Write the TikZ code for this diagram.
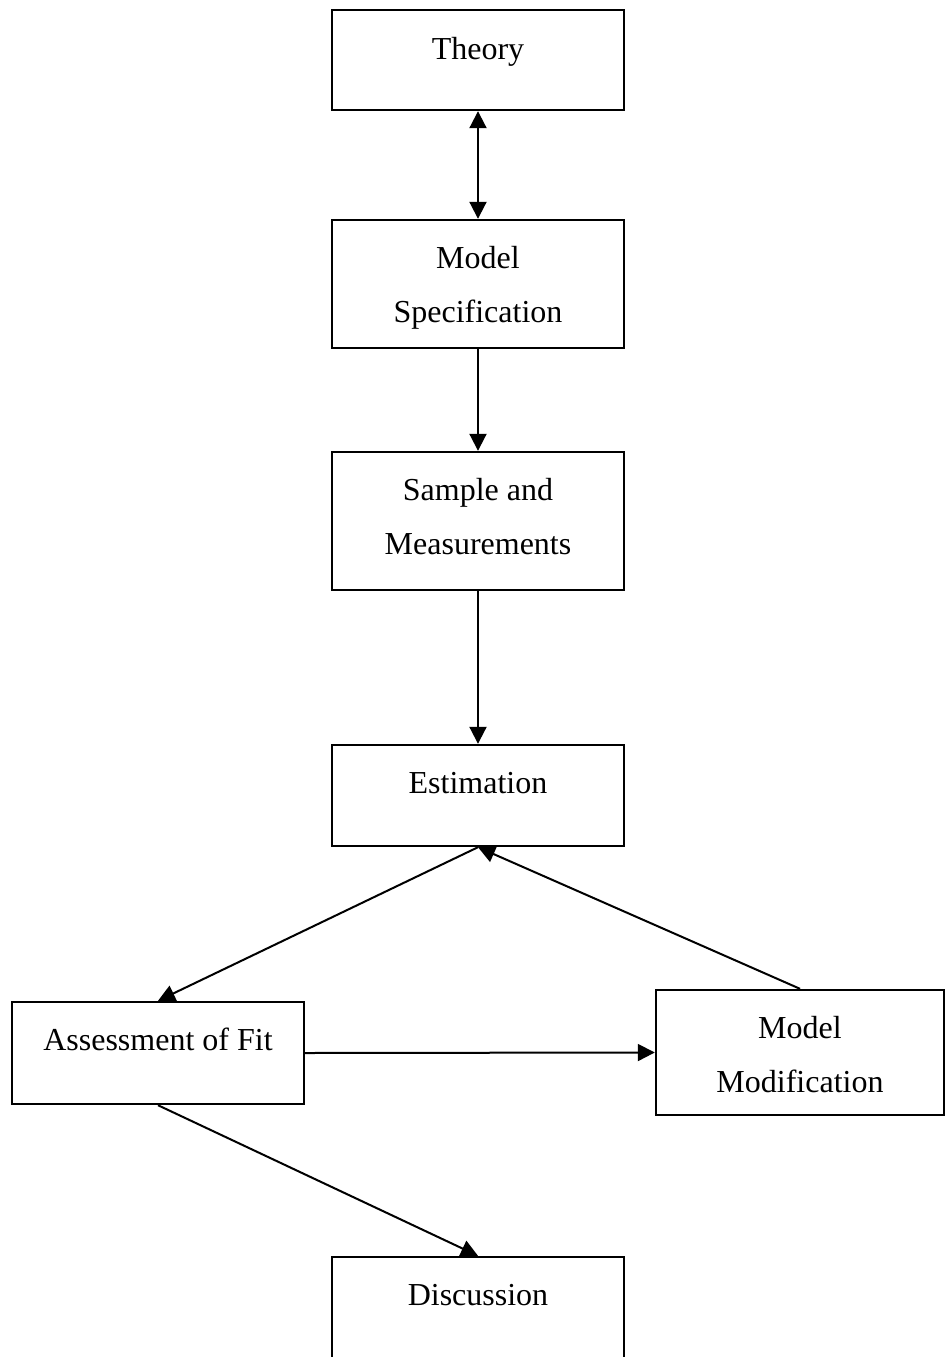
\documentclass[tikz,border=0pt]{standalone}
\usepackage{fontspec}
\setmainfont{Liberation Serif}
\usetikzlibrary{arrows.meta}
\begin{document}
\begin{tikzpicture}[x=1pt,y=-1pt,
  box/.style={draw=black, line width=2.4pt, rectangle, inner sep=0pt},
  txt/.style={anchor=base, inner sep=0pt, font=\fontsize{32}{54}\selectfont},
  link/.style={line width=2pt, -{Triangle[length=17pt,width=17pt]}},
  both/.style={line width=2pt, {Triangle[length=17pt,width=17pt]}-{Triangle[length=17pt,width=17pt]}}]
\clip (0,0) rectangle (945,1357);
\useasboundingbox (0,0) rectangle (945,1357);

% boxes
\node[box, minimum width=292pt, minimum height=100pt] (theory) at (478,60) {};
\node[box, minimum width=292pt, minimum height=128pt] (spec) at (478,284) {};
\node[box, minimum width=292pt, minimum height=138pt] (sample) at (478,521) {};
\node[box, minimum width=292pt, minimum height=101pt] (estim) at (478,795.5) {};
\node[box, minimum width=292pt, minimum height=102pt] (fit) at (158,1053) {};
\node[box, minimum width=288pt, minimum height=125pt] (modif) at (800,1052.5) {};
\node[box, minimum width=292pt, minimum height=130pt] (disc) at (478,1322) {};

% labels
\node[txt] (theoryA) at ([yshift=-51pt]theory.north) {Theory};
\node[txt] (specA) at ([yshift=-50pt]spec.north) {Model};
\node[txt] (specB) at ([yshift=-104pt]spec.north) {Specification};
\node[txt] (sampleA) at ([yshift=-50pt]sample.north) {Sample and};
\node[txt] (sampleB) at ([yshift=-104pt]sample.north) {Measurements};
\node[txt] (estimA) at ([yshift=-50pt]estim.north) {Estimation};
\node[txt] (fitA) at ([yshift=-50pt]fit.north) {Assessment of Fit};
\node[txt] (modifA) at ([yshift=-50pt]modif.north) {Model};
\node[txt] (modifB) at ([yshift=-104pt]modif.north) {Modification};
\node[txt] (discA) at ([yshift=-50pt]disc.north) {Discussion};

% connectors
\draw[both] (theory.south) -- (spec.north);
\draw[link] (spec.south) -- (sample.north);
\draw[link] (sample.south) -- (estim.north);
\draw[link] (estim.south) -- (fit.north);
\draw[link] (modif.north) -- (estim.south);
\draw[link] (fit.east) -- (modif.west);
\draw[link] (fit.south) -- (disc.north);
\end{tikzpicture}
\end{document}
